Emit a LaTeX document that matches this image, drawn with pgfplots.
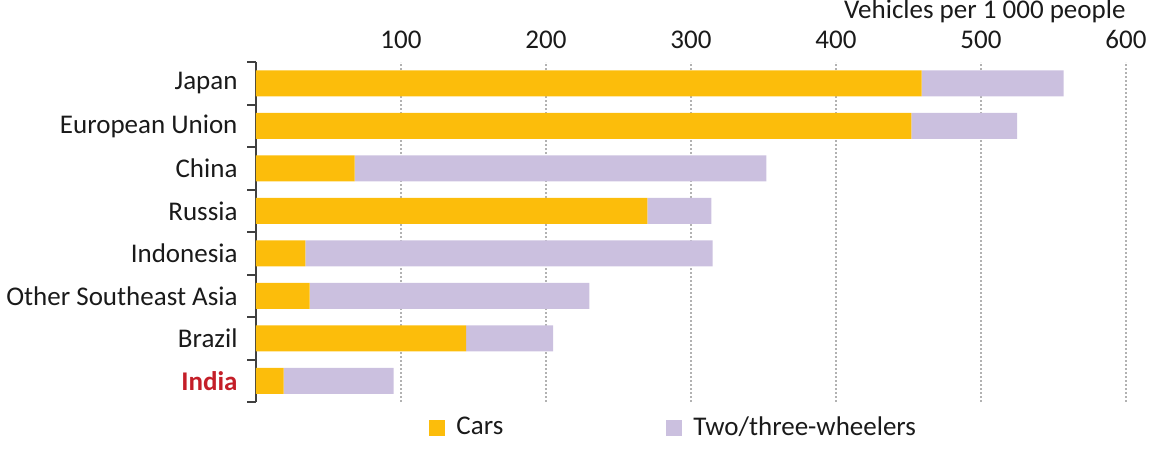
\documentclass[border=0pt]{standalone}
\usepackage{pgfplots}
\pgfplotsset{compat=1.18}
\usepackage{fontspec}
\setmainfont{Carlito}
\definecolor{cars}{RGB}{252,189,11}
\definecolor{twothree}{RGB}{203,192,223}
\definecolor{indiared}{RGB}{196,30,40}
\definecolor{axgray}{RGB}{64,64,64}
\definecolor{txt}{RGB}{26,26,26}
\pgfplotstableread{
y cars two
7 459 98
6 452 73
5 68 284
4 270 44
3 34 281
2 37 193
1 145 60
0 19 76
}\datatable
\begin{document}
\fontsize{10.8pt}{13pt}\selectfont
\begin{tikzpicture}
\begin{axis}[
  scale only axis,
  width=348pt, height=136pt,
  xmin=0, xmax=600,
  ymin=-0.5, ymax=7.5,
  xbar stacked,
  bar width=10.4pt,
  axis x line*=top,
  axis y line*=left,
  x axis line style={draw=none},
  y axis line style={draw=axgray, line width=0.8pt},
  xtick={100,200,300,400,500,600},
  /pgf/number format/assume math mode=true,
  xticklabel style={inner sep=0pt, yshift=5.4pt, text=txt},
  ytick={0,1,2,3,4,5,6,7},
  yticklabels={{\color{indiared}\bfseries India},Brazil,Other Southeast Asia,Indonesia,Russia,China,European Union,Japan},
  yticklabel style={inner sep=0pt, xshift=-7.2pt, text=txt},
  minor ytick={-0.5,0.5,1.5,2.5,3.5,4.5,5.5,6.5,7.5},
  major tick length=0pt,
  minor tick length=3.4pt,
  tick align=outside,
  minor tick style={draw=axgray, line width=0.8pt},
  xmajorgrids,
  grid style={draw=gray!60, dash pattern=on 0.8pt off 0.8pt, line width=0.9pt},
  legend style={draw=none, fill=none, legend columns=2, at={(0.4816,-0.075)}, anchor=center,
    /tikz/every even column/.append style={column sep=63pt},
    text=txt},
  legend image code/.code={\fill[#1] (0pt,-3.2pt) rectangle (6.4pt,3.2pt); \path (9pt,0pt);},
  clip=false,
]
\addplot[fill=cars, draw=none] table[x=cars, y=y] {\datatable};
\addplot[fill=twothree, draw=none] table[x=two, y=y] {\datatable};
\legend{Cars, Two/three-wheelers}
\coordinate (tl) at (rel axis cs:0,1);
\node[anchor=base east, inner sep=0pt, text=txt] at ([yshift=17.4pt]rel axis cs:1,1) {Vehicles per 1 000 people};
\end{axis}
\path ([xshift=-102.4pt, yshift=24.8pt]tl) rectangle ([xshift=360.4pt, yshift=-153.6pt]tl);
\end{tikzpicture}
\end{document}
